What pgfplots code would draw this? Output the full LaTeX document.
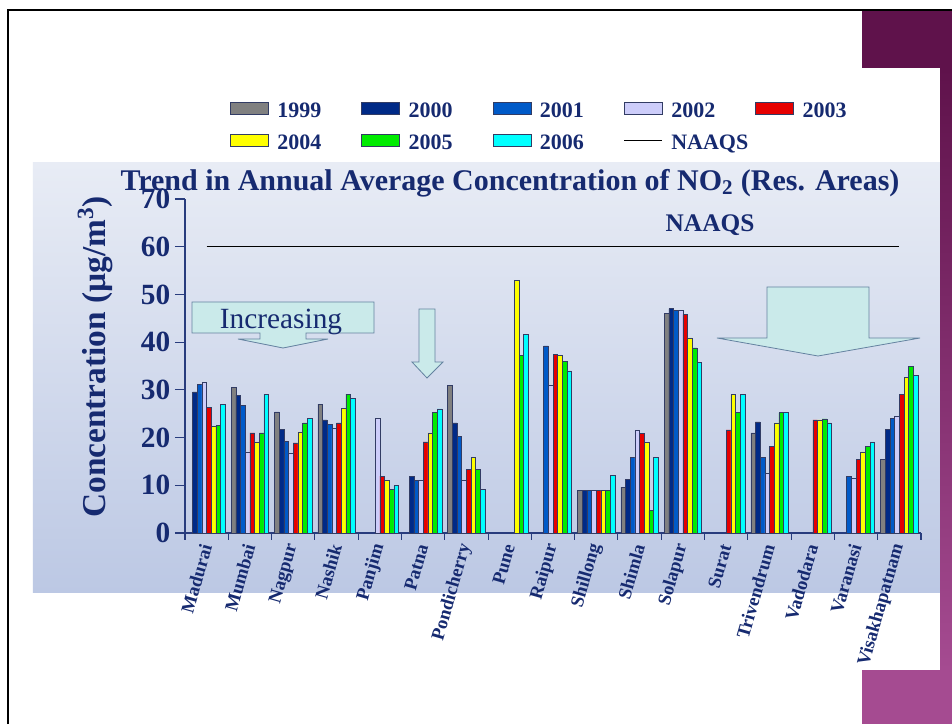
\documentclass[border=0pt]{standalone}
\usepackage{fontspec}
\setmainfont{Liberation Serif}
\usepackage{pgfplots}
\pgfplotsset{compat=1.18}
\definecolor{navytext}{RGB}{22,42,112}
\definecolor{axiscol}{RGB}{40,60,125}
\definecolor{c1999}{RGB}{128,128,128}
\definecolor{c2000}{RGB}{0,42,135}
\definecolor{c2001}{RGB}{0,90,200}
\definecolor{c2002}{RGB}{205,205,250}
\definecolor{c2003}{RGB}{230,0,0}
\definecolor{c2004}{RGB}{255,255,0}
\definecolor{c2005}{RGB}{0,235,0}
\definecolor{c2006}{RGB}{0,255,255}
\definecolor{barline}{RGB}{50,60,100}
\definecolor{arrowfill}{RGB}{202,234,234}
\definecolor{arrowdraw}{RGB}{100,130,160}
\definecolor{purpledark}{RGB}{95,18,75}
\definecolor{purplelight}{RGB}{165,75,145}
\definecolor{bgtop}{RGB}{232,236,245}
\definecolor{bgbot}{RGB}{188,200,228}
\pgfplotsset{
  barleg/.style={legend image code/.code={\draw[##1,/tikz/.cd] (0pt,-2.25pt) rectangle (28.5pt,6.75pt);}},
  linleg/.style={legend image code/.code={\draw[##1,/tikz/.cd] (0pt,2.25pt) -- (28.5pt,2.25pt);}}
}
\tikzset{px/.style={x=0.75pt,y=-0.75pt,shift={(-138.75pt,399.75pt)}}}
\newcommand{\legtxt}[1]{\makebox[61pt][l]{\hspace{4pt}#1}}
\begin{document}
\begin{tikzpicture}
\begin{scope}[px]
  \useasboundingbox (0,0) rectangle (952,724);
  \fill[white] (0,0) rectangle (952,724);
  \shade[top color=bgtop,bottom color=bgbot] (33,163) rectangle (940,592);
  \fill[purpledark] (862,10) rectangle (952,68);
  \shade[top color=purpledark,bottom color=purplelight] (940,68) rectangle (952,670);
  \fill[purplelight] (862,670) rectangle (952,724);
  \draw[line width=1.5pt] (8,724) -- (8,10) -- (952,10);
\end{scope}
\begin{axis}[
  at={(0,0)}, anchor=south west,
  scale only axis, width=552pt, height=250.5pt,
  xmin=-0.5, xmax=16.5, ymin=0, ymax=70,
  axis lines*=left,
  axis line style={draw=axiscol, line width=0.8pt},
  ybar, bar width=3.5pt,
  xtick={0,...,16},
  xticklabels={Madurai,Mumbai,Nagpur,Nashik,Panjim,Patna,Pondicherry,Pune,Raipur,Shillong,Shimla,Solapur,Surat,Trivendrum,Vadodara,Varanasi,Visakhapatnam},
  minor xtick={-0.5,0.5,...,16.5},
  tick align=outside,
  tick style={draw=axiscol, line width=0.8pt},
  major x tick style={draw=none},
  minor tick length=5pt, major tick length=7.5pt,
  ytick={0,10,...,70},
  xticklabel style={rotate=74, anchor=east, font=\bfseries\fontsize{14}{14}\selectfont, text=navytext, inner sep=1pt},
  yticklabel style={font=\bfseries\fontsize{22}{22}\selectfont, text=navytext},
  /pgf/number format/assume math mode=true,
  ylabel={Concentration (µg/m\textsuperscript{3})},
  ylabel style={at={(axis description cs:-0.122,0.527)}, anchor=center, font=\bfseries\fontsize{25}{25}\selectfont, text=navytext},
  legend columns=5,
  legend style={at={(axis description cs:0.0557,1.305)}, anchor=north west, draw=none, fill=none,
    font=\bfseries\fontsize{16.5}{16.5}\selectfont, text=navytext, row sep=8pt,
    nodes={inner xsep=2.5pt, inner ysep=2pt},
    /tikz/every even column/.append style={column sep=3.5pt}},
]
\addplot[fill=c1999, draw=barline, bar shift=-12.25pt, barleg] coordinates {(1,30.5) (2,25.4) (3,27.0) (6,30.9) (9,9.0) (10,9.6) (11,46.1) (13,21.0) (16,15.4)};
\addlegendentry{\legtxt{1999}}
\addplot[fill=c2000, draw=barline, bar shift=-8.75pt, barleg] coordinates {(0,29.6) (1,28.9) (2,21.7) (3,23.7) (5,11.9) (6,23.1) (9,9.0) (10,11.3) (11,47.0) (13,23.3) (16,21.7)};
\addlegendentry{\legtxt{2000}}
\addplot[fill=c2001, draw=barline, bar shift=-5.25pt, barleg] coordinates {(0,31.2) (1,26.8) (2,19.2) (3,22.8) (5,11.1) (6,20.3) (8,39.2) (9,9.0) (10,15.9) (11,46.6) (13,15.9) (15,11.8) (16,24.0)};
\addlegendentry{\legtxt{2001}}
\addplot[fill=c2002, draw=barline, bar shift=-1.75pt, barleg] coordinates {(0,31.5) (1,17.0) (2,16.8) (3,21.9) (4,24.0) (5,11.1) (6,11.1) (8,31.0) (9,9.0) (10,21.6) (11,46.6) (13,12.5) (15,11.4) (16,24.4)};
\addlegendentry{\legtxt{2002}}
\addplot[fill=c2003, draw=barline, bar shift=1.75pt, barleg] coordinates {(0,26.3) (1,21.0) (2,18.9) (3,23.1) (4,11.9) (5,19.1) (6,13.3) (8,37.5) (9,9.0) (10,20.9) (11,45.8) (12,21.6) (13,18.2) (14,23.7) (15,15.4) (16,29.1)};
\addlegendentry{\legtxt{2003}}
\addplot[fill=c2004, draw=barline, bar shift=5.25pt, barleg] coordinates {(0,22.3) (1,19.1) (2,21.2) (3,26.1) (4,11.1) (5,21.0) (6,15.9) (7,52.9) (8,37.2) (9,9.0) (10,19.0) (11,40.9) (12,29.0) (13,23.1) (14,23.7) (15,17.0) (16,32.6)};
\addlegendentry{\legtxt{2004}}
\addplot[fill=c2005, draw=barline, bar shift=8.75pt, barleg] coordinates {(0,22.5) (1,21.0) (2,23.1) (3,29.1) (4,9.1) (5,25.2) (6,13.4) (7,37.2) (8,35.9) (9,9.0) (10,4.7) (11,38.8) (12,25.2) (13,25.2) (14,23.9) (15,18.1) (16,35.0)};
\addlegendentry{\legtxt{2005}}
\addplot[fill=c2006, draw=barline, bar shift=12.25pt, barleg] coordinates {(0,27.0) (1,29.1) (2,24.0) (3,28.2) (4,9.9) (5,26.0) (6,9.1) (7,41.7) (8,34.0) (9,12.0) (10,15.9) (11,35.8) (12,29.0) (13,25.2) (14,23.1) (15,19.1) (16,33.0)};
\addlegendentry{\legtxt{2006}}
\addplot[sharp plot, draw=black, line width=0.6pt, linleg] coordinates {(0,60) (16,60)};
\addlegendentry{\legtxt{NAAQS}}
\end{axis}
\begin{scope}[px]
  % Increasing callout
  \filldraw[fill=arrowfill, draw=arrowdraw, line width=0.6pt]
    (192,302) -- (374,302) -- (374,333) -- (306,333) -- (306,339) -- (328,339) -- (283,348)
    -- (238,339) -- (260,339) -- (260,333) -- (192,333) -- cycle;
  \node[anchor=base, text=navytext, font=\fontsize{22}{22}\selectfont] at (281,329) {Increasing};
  % Patna arrow
  \filldraw[fill=arrowfill, draw=arrowdraw, line width=0.6pt]
    (419,309) -- (435,309) -- (435,362) -- (443,362) -- (427,378) -- (412,362) -- (419,362) -- cycle;
  % right big arrow
  \filldraw[fill=arrowfill, draw=arrowdraw, line width=0.6pt]
    (767,287) -- (869,287) -- (869,338) -- (920,338) -- (818,356) -- (717,338) -- (767,338) -- cycle;
  \node[text=navytext, font=\bfseries\fontsize{19}{19}\selectfont] at (710,225) {NAAQS};
  \node[text=navytext, font=\bfseries\fontsize{22.5}{22.5}\selectfont] at (510,183) {Trend in Annual Average Concentration of NO\textsubscript{2} (Res. Areas)};
\end{scope}
\end{tikzpicture}
\end{document}
